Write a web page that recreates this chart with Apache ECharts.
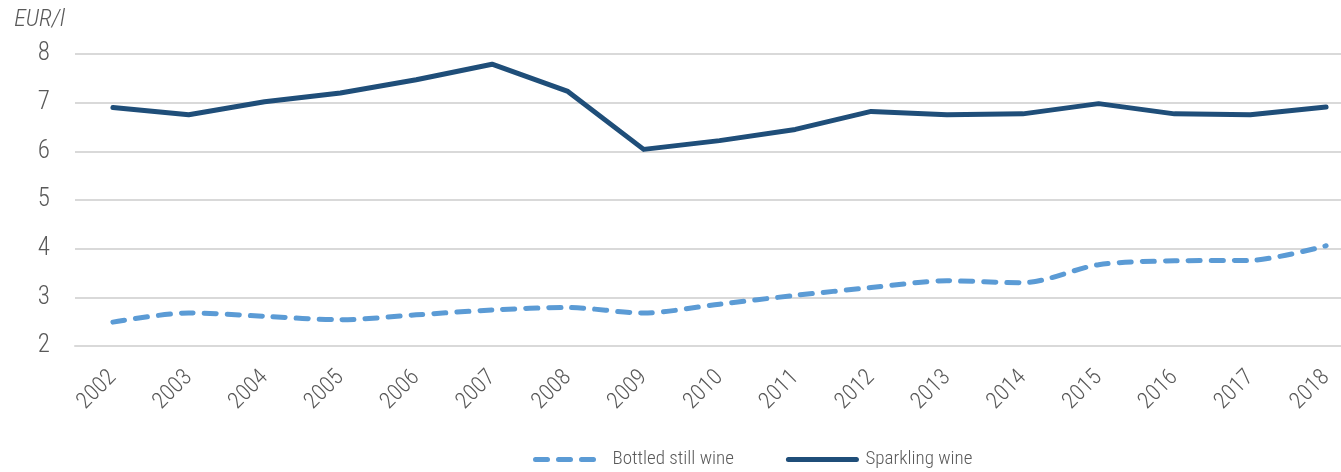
<!DOCTYPE html>
<html>
<head>
<meta charset="utf-8">
<script src="https://cdn.jsdelivr.net/npm/echarts@6/dist/echarts.min.js"></script>
<style>
html,body{margin:0;padding:0;background:#fff;}
#chart{width:1341px;height:472px;}
</style>
</head>
<body>
<div id="chart"></div>
<script>
const years = ['2002','2003','2004','2005','2006','2007','2008','2009','2010','2011','2012','2013','2014','2015','2016','2017','2018'];
const bottledStillWine = [2.49, 2.68, 2.61, 2.54, 2.64, 2.74, 2.79, 2.68, 2.86, 3.04, 3.20, 3.34, 3.30, 3.67, 3.75, 3.76, 4.06];
const sparklingWine = [6.90, 6.75, 7.02, 7.20, 7.47, 7.79, 7.23, 6.04, 6.22, 6.45, 6.82, 6.75, 6.77, 6.98, 6.77, 6.75, 6.91];
const seriesNames = ['Bottled still wine', 'Sparkling wine'];
const yUnit = 'EUR/l';

const FONT = '"Roboto Condensed", "Liberation Sans Narrow", "DejaVu Sans Condensed", Roboto, sans-serif';
const chart = echarts.init(document.getElementById('chart'), null, {renderer: 'canvas'});
chart.setOption({
  animation: false,
  backgroundColor: '#ffffff',
  textStyle: {fontFamily: FONT, color: '#595959', fontWeight: 300},
  grid: {left: 75, top: 54, width: 1289, height: 292, containLabel: false, outerBoundsMode: 'none'},
  legend: {
    top: 445,
    left: 528,
    itemWidth: 68,
    itemHeight: 5,
    itemGap: 52,
    lineStyle: {width: 5, cap: 'round'},
    itemStyle: {opacity: 0},
    textStyle: {fontFamily: FONT, fontSize: 19, fontWeight: 300, color: '#595959', padding: [0, 0, 0, 4]},
    data: seriesNames
  },
  xAxis: {
    type: 'category',
    data: years,
    boundaryGap: true,
    axisLine: {show: true, lineStyle: {color: '#d9d9d9', width: 2}},
    axisTick: {show: false},
    axisLabel: {rotate: 45, margin: 28, fontSize: 23, fontWeight: 300, color: '#595959', fontFamily: FONT, interval: 0}
  },
  yAxis: {
    type: 'value',
    min: 2,
    max: 8,
    interval: 1,
    name: yUnit,
    nameLocation: 'end',
    nameGap: 22,
    nameTextStyle: {fontStyle: 'italic', fontSize: 24, fontWeight: 300, color: '#595959', fontFamily: FONT, align: 'right', padding: [0, 10, 0, 0]},
    axisLine: {show: false},
    axisTick: {show: false},
    splitLine: {lineStyle: {color: '#d9d9d9', width: 2}},
    axisLabel: {fontSize: 25, fontWeight: 300, color: '#595959', fontFamily: FONT, margin: 25}
  },
  series: [
    {
      name: seriesNames[0],
      type: 'line',
      data: bottledStillWine,
      smooth: 0.3,
      symbol: 'none',
      color: '#5b9bd5',
      lineStyle: {color: '#5b9bd5', width: 5, type: [12, 11], cap: 'round', join: 'round'}
    },
    {
      name: seriesNames[1],
      type: 'line',
      data: sparklingWine,
      symbol: 'none',
      color: '#1f4e79',
      lineStyle: {color: '#1f4e79', width: 5, cap: 'round', join: 'round'}
    }
  ]
});
</script>
</body>
</html>
